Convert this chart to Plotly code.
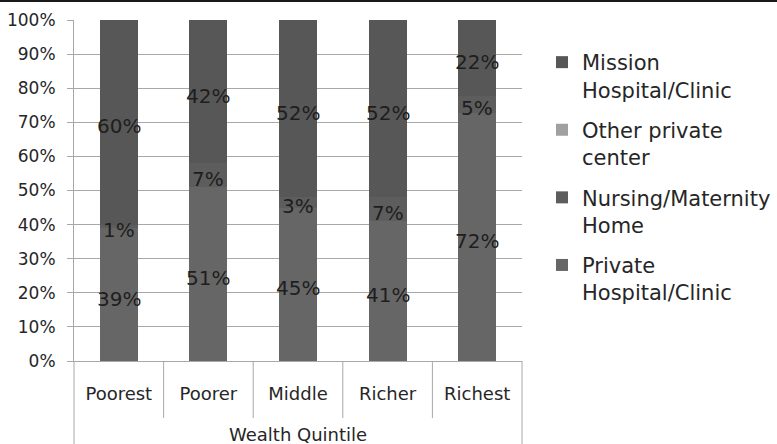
import numpy as np
import plotly.graph_objects as go

categories = ["Poorest", "Poorer", "Middle", "Richer", "Richest"]
series_names = ["Private<br>Hospital/Clinic", "Nursing/Maternity<br>Home", "Other private<br>center", "Mission<br>Hospital/Clinic"]
private_hospital = [39, 51, 45, 41, 72]
nursing_home = [1, 7, 3, 7, 5]
other_private = [0, 0, 0, 0, 0]
mission_hospital = [60, 42, 52, 52, 22]
show_labels = [True, True, False, True]
colors = ["#666666", "#5d5d5d", "#a0a0a0", "#575757"]
y_ticks = list(range(0, 101, 10))
y_tick_labels = [f"{v}%" for v in y_ticks]

FONT = "DejaVu Sans"
series = [private_hospital, nursing_home, other_private, mission_hospital]

fig = go.Figure()
n = len(series)
for i, (name, vals) in enumerate(zip(series_names, series)):
    fig.add_trace(go.Bar(
        x=categories, y=vals, name=name, marker=dict(color=colors[i], line=dict(width=0)),
        legendgroup=f"g{i}", legendrank=(n - i) * 100, hoverinfo="skip",
    ))

# data labels centered in (100%-normalised) segments, drawn above all bars
arr = np.array(series, dtype=float)
norm = arr / arr.sum(axis=0) * 100
cum = np.cumsum(norm, axis=0)
mid = cum - norm / 2
annotations = []
for i in range(len(series)):
    if not show_labels[i]:
        continue
    for j, c in enumerate(categories):
        annotations.append(dict(
            x=c, y=mid[i, j], xref="x", yref="y", text=f"{series[i][j]}%",
            showarrow=False, xanchor="center", yanchor="middle", yshift=-4,
            font=dict(family=FONT, size=20, color="#1e1e1e"),
        ))

grid = "#a8a8a8"
H = 341.0
shapes = []
for k in range(len(categories) - 1):
    shapes.append(dict(type="line", xref="x", yref="paper", x0=k + 0.5, x1=k + 0.5,
                       y0=0, y1=-57 / H, line=dict(color=grid, width=1)))
for xp in (0, 1):
    shapes.append(dict(type="line", xref="paper", yref="paper", x0=xp, x1=xp,
                       y0=0, y1=-83 / H, line=dict(color=grid, width=1)))
shapes.append(dict(type="line", xref="paper", yref="paper", x0=-74 / 448, x1=703 / 448,
                   y0=(361 - 1) / H, y1=(361 - 1) / H, line=dict(color="#1a1a1a", width=2)))

annotations.append(dict(text="Wealth Quintile", xref="paper", yref="paper", x=0.5,
                        y=-(434 - 361) / H, xanchor="center", yanchor="middle",
                        showarrow=False, font=dict(family=FONT, size=18, color="#262626")))

fig.update_layout(
    width=777, height=444,
    margin=dict(l=74, r=255, t=20, b=83, autoexpand=False),
    paper_bgcolor="white", plot_bgcolor="white",
    barmode="stack", barnorm="percent", bargap=0.578,
    hovermode=False,
    font=dict(family=FONT, color="#262626"),
    shapes=shapes,
    showlegend=True,
    legend=dict(
        traceorder="grouped", xref="container", yref="container",
        x=542 / 777, y=1 - 42 / 444, xanchor="left", yanchor="top",
        font=dict(family=FONT, size=21, color="#262626"),
        valign="top", tracegroupgap=10, bgcolor="rgba(0,0,0,0)",
        maxheight=400,
    ),
    annotations=annotations,
)
fig.update_xaxes(
    type="category", categoryorder="array", categoryarray=categories,
    range=[-0.5, len(categories) - 0.5],
    showgrid=False, showline=True, linecolor=grid, linewidth=1,
    ticks="outside", ticklen=16, tickcolor="rgba(0,0,0,0)",
    tickfont=dict(family=FONT, size=18, color="#262626"), fixedrange=True,
)
fig.update_yaxes(
    range=[0, 100], tickvals=y_ticks, ticktext=y_tick_labels,
    showgrid=True, gridcolor=grid, gridwidth=1,
    showline=True, linecolor=grid, linewidth=1,
    ticks="outside", ticklen=6, tickcolor=grid, ticklabelstandoff=8,
    tickfont=dict(family=FONT, size=17, color="#262626"), zeroline=False, fixedrange=True,
)

fig.write_html("out.html", config={"displayModeBar": False, "staticPlot": True},
               post_script="document.body.style.margin='0';")
